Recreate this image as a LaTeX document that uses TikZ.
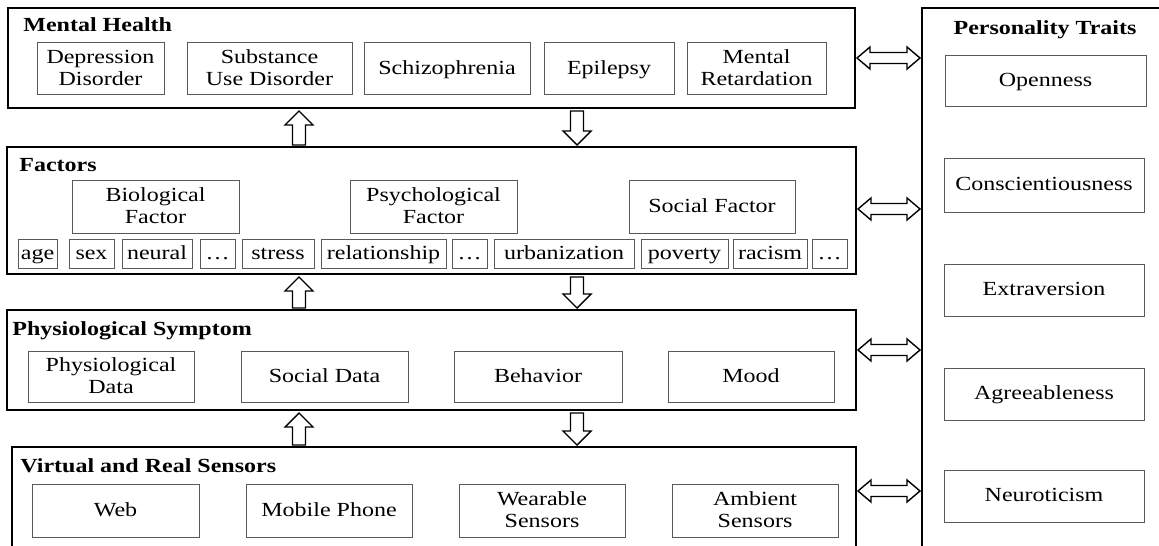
\documentclass[tikz,border=0pt]{standalone}
\usepackage{fontspec}
\setmainfont{Liberation Serif}[FakeStretch=1.2]
\usetikzlibrary{calc}
\newcommand\vupar[2]{%
  \draw[harrow] ($(#1)+(-6.5,0)$) -- ($(#2)+(-6.5,14)$) -- ($(#2)+(-14,14)$) -- (#2)
    -- ($(#2)+(14,14)$) -- ($(#2)+(6.5,14)$) -- ($(#1)+(6.5,0)$) -- cycle;}
\newcommand\vdnar[2]{%
  \draw[harrow] ($(#1)+(-6.5,0)$) -- ($(#2)+(-6.5,-14)$) -- ($(#2)+(-14,-14)$) -- (#2)
    -- ($(#2)+(14,-14)$) -- ($(#2)+(6.5,-14)$) -- ($(#1)+(6.5,0)$) -- cycle;}
\newcommand\hdbar[2]{%
  \draw[harrow] (#1) -- ($(#1)+(13,-11)$) -- ($(#1)+(13,-5.5)$) -- ($(#2)+(-13,-5.5)$)
    -- ($(#2)+(-13,-11)$) -- (#2) -- ($(#2)+(-13,11)$) -- ($(#2)+(-13,5.5)$)
    -- ($(#1)+(13,5.5)$) -- ($(#1)+(13,11)$) -- cycle;}
\newcommand\mystrut{\rule[-2.7pt]{0pt}{10.9pt}}
% box: [style]{name}{x1}{y1}{x2}{y2}{text}  (pixel coordinates)
\newcommand\bx[7][ibox]{%
  \pgfmathsetmacro\bcx{(#3+#5)/2}\pgfmathsetmacro\bcy{(#4+#6)/2}%
  \pgfmathsetmacro\bw{(#5-#3)*0.5}\pgfmathsetmacro\bh{(#6-#4)*0.5}%
  \node[#1, minimum width=\bw pt, minimum height=\bh pt] (#2) at (\bcx,\bcy) {\mystrut#7\mystrut};}
\begin{document}
\begin{tikzpicture}[x=0.5pt,y=-0.5pt,
  outer/.style={draw=black, line width=1.2pt, inner sep=0pt, outer sep=0pt},
  ibox/.style={draw=black!65, line width=0.5pt, inner sep=0pt, outer sep=0pt, align=center,
    font=\fontsize{10}{11}\selectfont},
  head/.style={font=\bfseries\fontsize{10}{11}\selectfont, anchor=base west, inner sep=0pt},
  harrow/.style={draw, line width=0.7pt, fill=white}]
\useasboundingbox (0,0) rectangle (1159,545);
\clip (0,0) rectangle (1159,545);

% Mental Health
\bx[outer]{mh}{8}{8}{855}{108}{}
\node[head] (mhh) at (23,32) {Mental Health};
\bx{dep}{37}{43}{164}{95}{Depression\\Disorder}
\bx{sub}{187}{43}{352}{95}{Substance\\Use Disorder}
\bx{sch}{364}{43}{530}{95}{Schizophrenia}
\bx{epi}{544}{43}{674}{95}{Epilepsy}
\bx{mr}{687}{43}{826}{95}{Mental\\Retardation}

% Factors
\bx[outer]{fac}{7}{147}{856}{274}{}
\node[head] (fach) at (19,171) {Factors};
\bx{bio}{72}{181}{239}{233}{Biological\\Factor}
\bx{psy}{350}{181}{517}{233}{Psychological\\Factor}
\bx{soc}{629}{181}{795}{233}{Social Factor}
\bx{age}{18}{239}{57}{268}{age}
\bx{sex}{69}{239}{114}{268}{sex}
\bx{neu}{122}{239}{192}{268}{neural}
\bx{da}{200}{239}{235}{268}{\ldots}
\bx{str}{242}{239}{314}{268}{stress}
\bx{rel}{321}{239}{446}{268}{relationship}
\bx{db}{452}{239}{487}{268}{\ldots}
\bx{urb}{494}{239}{634}{268}{urbanization}
\bx{pov}{641}{239}{728}{268}{poverty}
\bx{rac}{733}{239}{807}{268}{racism}
\bx{dc}{812}{239}{847}{268}{\ldots}

% Physiological Symptom
\bx[outer]{phy}{7}{310}{856}{410}{}
\node[head] (phyh) at (12,335) {Physiological Symptom};
\bx{pd}{28}{351}{194}{402}{Physiological\\Data}
\bx{sd}{241}{351}{408}{402}{Social Data}
\bx{beh}{454}{351}{622}{402}{Behavior}
\bx{mood}{668}{351}{834}{402}{Mood}

% Virtual and Real Sensors
\bx[outer]{sen}{12}{447}{856}{575}{}
\node[head] (senh) at (20,472) {Virtual and Real Sensors};
\bx{web}{32}{484}{199}{537}{Web}
\bx{mob}{246}{484}{412}{537}{Mobile Phone}
\bx{wear}{459}{484}{625}{537}{Wearable\\Sensors}
\bx{amb}{672}{484}{838}{537}{Ambient\\Sensors}

% Personality Traits
\bx[outer]{pt}{922}{8}{1180}{575}{}
\node[head, anchor=base] (pth) at (1045,35) {Personality Traits};
\bx{ope}{945}{56}{1146}{107}{Openness}
\bx{con}{944}{159}{1144}{212}{Conscientiousness}
\bx{ext}{944}{264}{1144}{316}{Extraversion}
\bx{agr}{944}{368}{1144}{420}{Agreeableness}
\bx{neur}{944}{470}{1144}{522}{Neuroticism}

% vertical arrows
\coordinate (ax) at (299,0);
\coordinate (bx) at (577,0);
\coordinate (u1b) at ($(fac.north -| ax)+(0,-2)$);
\coordinate (u1t) at ($(mh.south -| ax)+(0,3)$);
\coordinate (d1t) at ($(mh.south -| bx)+(0,3)$);
\coordinate (d1b) at ($(fac.north -| bx)+(0,-2)$);
\coordinate (u2b) at ($(phy.north -| ax)+(0,-2)$);
\coordinate (u2t) at ($(fac.south -| ax)+(0,3)$);
\coordinate (d2t) at ($(fac.south -| bx)+(0,3)$);
\coordinate (d2b) at ($(phy.north -| bx)+(0,-2)$);
\coordinate (u3b) at ($(sen.north -| ax)+(0,-2)$);
\coordinate (u3t) at ($(phy.south -| ax)+(0,3)$);
\coordinate (d3t) at ($(phy.south -| bx)+(0,3)$);
\coordinate (d3b) at ($(sen.north -| bx)+(0,-2)$);
\vupar{u1b}{u1t}
\vdnar{d1t}{d1b}
\vupar{u2b}{u2t}
\vdnar{d2t}{d2b}
\vupar{u3b}{u3t}
\vdnar{d3t}{d3b}

% horizontal double arrows
\coordinate (y1) at (0,58);
\coordinate (y2) at (0,209);
\coordinate (y3) at (0,350);
\coordinate (y4) at (0,491);
\coordinate (h1l) at ($(mh.east |- y1)+(2,0)$);
\coordinate (h1r) at ($(pt.west |- y1)+(-2,0)$);
\coordinate (h2l) at ($(fac.east |- y2)+(2,0)$);
\coordinate (h2r) at ($(pt.west |- y2)+(-2,0)$);
\coordinate (h3l) at ($(phy.east |- y3)+(2,0)$);
\coordinate (h3r) at ($(pt.west |- y3)+(-2,0)$);
\coordinate (h4l) at ($(sen.east |- y4)+(2,0)$);
\coordinate (h4r) at ($(pt.west |- y4)+(-2,0)$);
\hdbar{h1l}{h1r}
\hdbar{h2l}{h2r}
\hdbar{h3l}{h3r}
\hdbar{h4l}{h4r}
\end{tikzpicture}
\end{document}
